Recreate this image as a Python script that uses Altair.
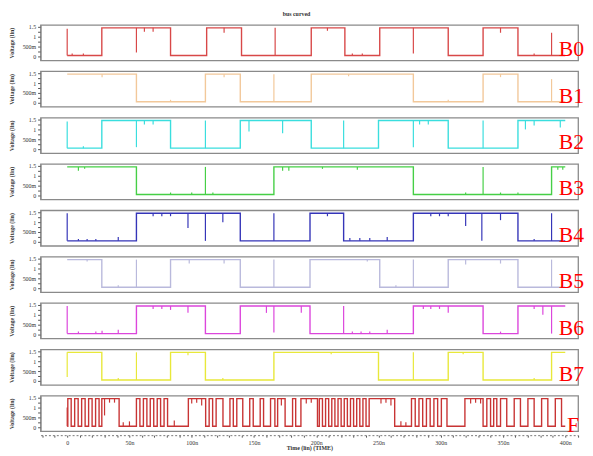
import altair as alt
import pandas as pd

# ---------------- data ----------------
names = ["B0", "B1", "B2", "B3", "B4", "B5", "B6", "B7", "F"]
colors = ["#d84848", "#f2c89a", "#3adede", "#46cf46", "#3535b8",
          "#b9b9dc", "#dc46dc", "#e8e83a", "#c83434"]
LOW, HIGH = 0.05, 1.45
T_END = 400

start_level = {"B0": 0, "B1": 1, "B2": 0, "B3": 1, "B4": 0,
               "B5": 1, "B6": 0, "B7": 1, "F": 0}

edges = {
    "B0": [27.8, 83, 112, 140, 196, 223, 251, 306, 334, 362],
    "B1": [55.6, 111, 139, 196, 278, 334, 362],
    "B2": [27.8, 83, 139, 196, 250, 306, 362],
    "B3": [55.6, 166, 278, 389],
    "B4": [55.6, 139, 195, 222, 278, 362],
    "B5": [27.8, 83, 139, 195, 251, 306, 362],
    "B6": [55.6, 111, 139, 195, 278, 334, 362],
    "B7": [27.8, 83, 111, 166, 250, 306, 334, 389],
    "F": [0.5, 3.2, 6.0, 8.8, 11.6, 14.4, 17.2, 20.0, 22.8, 25.6,
          27.8, 41.7,
          55.6, 58.4, 61.2, 64.0, 66.7, 69.5, 72.3, 75.0, 77.8, 80.6,
          97.3, 111.2, 114.0, 116.8, 119.6, 125.1, 130.7, 133.4,
          136.2, 141.0, 146.6, 149.4, 155.0, 157.7, 163.3, 166.8,
          169.0, 175.0, 181.0, 183.5, 187.7, 201.0,
          202.5, 205.0, 207.5, 210.0, 212.5, 215.0, 217.5, 220.0,
          222.5, 225.0, 227.5, 230.0, 232.5, 235.0, 237.5, 240.0,
          242.5, 263.0,
          276.5, 279.5, 282.5, 285.5, 288.5, 291.5, 294.5, 297.5,
          300.5, 305.0,
          319.4, 334.0, 337.0, 340.0, 342.5, 345.0, 348.0, 353.0,
          359.0, 364.0, 370.0, 375.0, 381.0, 386.0, 392.0, 397.0],
}

glitch_t = {
    "B0": [0, 4, 13, 55.6, 62, 69, 126, 167, 209, 229, 237, 278, 348, 375, 389],
    "B1": [28, 83, 126, 166, 226, 306, 348, 389],
    "B2": [0, 13, 55.6, 62, 69, 111, 146, 173, 222, 278, 283, 290, 334, 368, 375, 396],
    "B3": [9, 14, 83, 100, 111, 117, 173, 178, 205, 233, 320, 334, 348, 362, 394, 398],
    "B4": [0, 9, 16, 23, 41, 69, 76, 83, 97, 111, 125, 166, 209, 227, 235, 243,
           257, 292, 299, 306, 320, 333, 348, 375, 389],
    "B5": [16, 41, 55.6, 98, 126, 166, 241, 264, 278, 320, 348, 389],
    "B6": [0, 9, 23, 28, 41, 69, 76, 83, 97, 160, 166, 188, 222, 229, 236, 243,
           257, 286, 292, 299, 306, 348, 375, 382, 389],
    "B7": [0, 41, 55.6, 97, 125, 212, 278, 318, 375],
    "F": [0, 30, 34, 38, 45, 50, 86, 100, 104, 108, 172, 192, 196, 252, 256, 260,
          268, 272, 324, 328, 332],
}
glitch_v = {
    "B0": [1.4, 0.15, 0.15, 0.2, 1.25, 1.25, 1.2, 1.45, 1.3, 0.15, 0.15, 0.15, 1.2, 0.15, 1.2],
    "B1": [1.3, 0.15, 1.3, 1.45, 1.35, 0.15, 1.3, 1.2],
    "B2": [1.4, 0.15, 0.1, 1.25, 1.25, 1.45, 0.9, 0.8, 1.45, 0.1, 1.25, 1.25, 1.45, 1.0, 1.2, 1.1],
    "B3": [1.25, 1.35, 0.15, 0.15, 1.45, 0.15, 1.25, 1.25, 1.35, 1.3, 0.15, 1.45, 0.15, 0.15, 1.3, 1.3],
    "B4": [1.45, 0.15, 0.15, 0.15, 0.25, 1.3, 1.3, 1.3, 0.7, 0.05, 1.0, 1.45, 1.3, 0.2, 0.2, 0.2,
           0.25, 1.3, 1.3, 1.3, 0.8, 0.05, 1.1, 0.15, 1.45],
    "B5": [1.35, 0.15, 1.45, 1.25, 1.25, 1.45, 1.35, 0.15, 1.45, 1.2, 1.25, 1.45],
    "B6": [1.45, 0.15, 0.15, 0.2, 0.25, 1.3, 1.3, 1.25, 1.1, 1.1, 0.1, 1.1, 1.45, 0.15, 0.15, 0.15,
           0.25, 1.3, 1.3, 1.3, 1.1, 0.15, 1.3, 1.0, 0.05],
    "B7": [0.2, 0.15, 1.45, 1.3, 0.15, 1.35, 1.45, 1.35, 0.15],
    "F": [1.0, 0.6, 1.25, 1.25, 0.25, 0.3, 0.35, 1.2, 1.25, 1.1, 1.1, 1.2, 1.25, 1.2, 1.25,
          1.1, 0.3, 0.25, 1.2, 1.25, 1.2],
}

# ---------------- layout ----------------
W = 545
H = 36
X_DOMAIN = [-21.4, 410.3]
Y_DOMAIN = [-0.2, 1.6]
FONT = "Liberation Serif"
TXT = "#333333"


def level(name, t):
    lv = start_level[name]
    for e in edges[name]:
        if e <= t:
            lv = 1 - lv
    return HIGH if lv else LOW


def panel(name, color, last):
    lv = start_level[name]
    ts, vs = [0], [HIGH if lv else LOW]
    for e in edges[name]:
        lv = 1 - lv
        ts.append(e)
        vs.append(HIGH if lv else LOW)
    ts.append(T_END)
    vs.append(vs[-1])
    df_line = pd.DataFrame({"t": ts, "v": vs})
    df_g = pd.DataFrame({
        "t": glitch_t[name],
        "base": [level(name, t) for t in glitch_t[name]],
        "v": glitch_v[name],
    })

    if last:
        x_axis = alt.Axis(values=list(range(-20, 411, 10)),
                          labelExpr="datum.value < 0 || datum.value % 50 != 0 ? '' : "
                                    "(datum.value == 0 ? '0' : datum.value + 'n')",
                          labelOverlap=False, labelFlush=False,
                          title="Time (lin) (TIME)", grid=False, offset=4,
                          tickSize=2, labelFontSize=6, titleFontSize=6,
                          labelPadding=2, titlePadding=0, domainColor="#777",
                          domainDash=[2, 2], tickColor="#555",
                          labelColor=TXT, titleColor=TXT)
    else:
        x_axis = None
    xs = alt.Scale(domain=X_DOMAIN, nice=False, zero=False)
    ys = alt.Scale(domain=Y_DOMAIN, nice=False, zero=False)
    xenc = alt.X("t:Q", scale=xs, axis=x_axis)
    y_axis = alt.Axis(values=[0, 0.25, 0.5, 0.75, 1, 1.25, 1.5],
                      labelExpr="datum.value == 0.5 ? '500m' : "
                                "(datum.value * 2) % 1 != 0 ? '' : '' + datum.value",
                      labelOverlap=False, labelFlush=False, labelAlign="right",
                      title="Voltage (lin)", grid=False, tickSize=3,
                      labelFontSize=6, titleFontSize=6, labelPadding=2,
                      titlePadding=4, minExtent=22, maxExtent=22,
                      domainColor="#888", tickColor="#555",
                      labelColor=TXT, titleColor=TXT)
    yenc = alt.Y("v:Q", scale=ys, axis=y_axis)

    line = alt.Chart(df_line).mark_line(
        interpolate="step-after", color=color, strokeWidth=1.4
    ).encode(x=xenc, y=yenc)
    rules = alt.Chart(df_g).mark_rule(color=color, strokeWidth=1.2).encode(
        x=xenc, y=alt.Y("base:Q", scale=ys, axis=y_axis), y2="v:Q")
    lab = alt.Chart(pd.DataFrame({"label": [name]})).mark_text(
        font=FONT, fontSize=22, color="#ff0000", align="right",
        baseline="alphabetic"
    ).encode(text="label:N",
             x=alt.value(W + 1 if last else W + 6),
             y=alt.value(37 if last else 32))
    return alt.layer(line, rules, lab).properties(width=W, height=H)


panels = [panel(n, c, n == "F") for n, c in zip(names, colors)]

chart = alt.vconcat(*panels, spacing=11, bounds="flush").properties(
    title=alt.TitleParams("bus curved", fontSize=6, font=FONT, offset=6,
                          anchor="middle", color=TXT),
    padding=0,
).configure_view(stroke="#8a8a8a", strokeWidth=1.3).configure_axis(
    labelFont=FONT, titleFont=FONT
).configure_title(font=FONT)

chart.save("out.html", embed_options={"renderer": "svg", "actions": False})
